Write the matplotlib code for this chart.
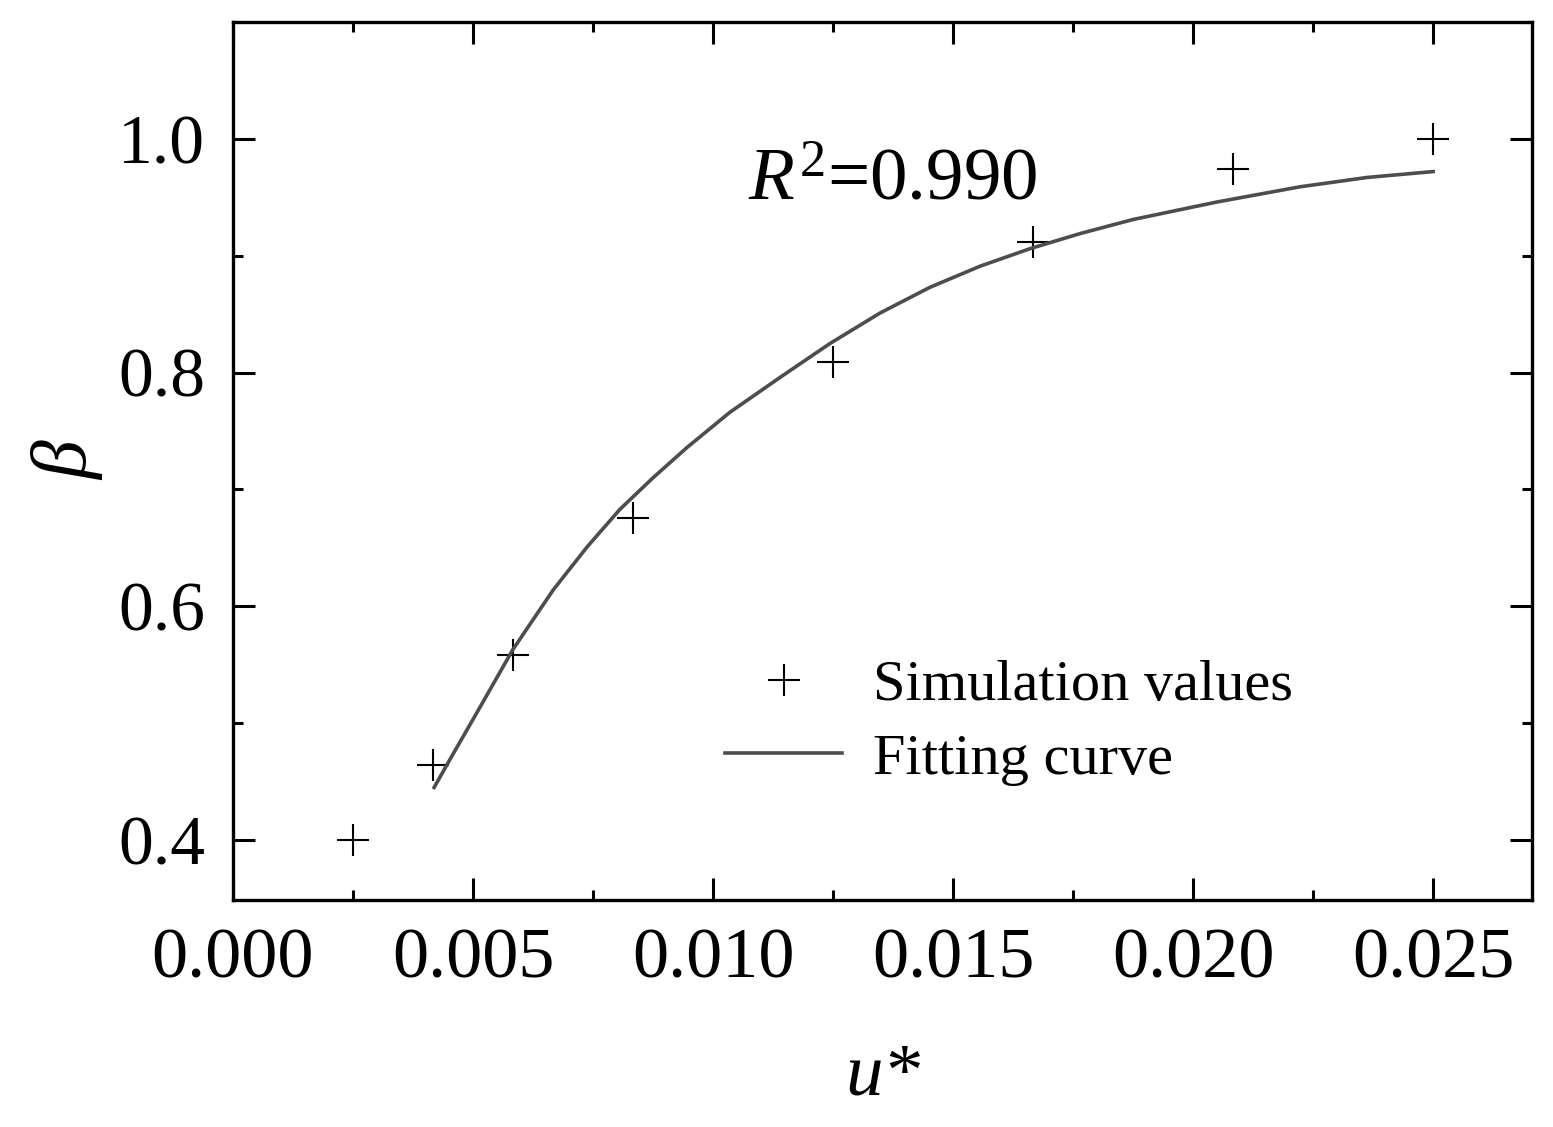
import numpy as np
import matplotlib.pyplot as plt
from matplotlib.ticker import MultipleLocator

plt.rcParams['font.family'] = ['Liberation Serif', 'DejaVu Serif']
plt.rcParams['mathtext.fontset'] = 'custom'
plt.rcParams['mathtext.rm'] = 'Liberation Serif'
plt.rcParams['mathtext.it'] = 'Liberation Serif:italic'

# simulation values
u_sim = [0.0025, 0.00417, 0.00583, 0.00833, 0.0125, 0.01667, 0.02083, 0.025]
beta_sim = [0.400, 0.464, 0.558, 0.676, 0.809, 0.912, 0.974, 1.000]

# fitting curve
u_fit = [0.00419, 0.00452, 0.00515, 0.00583, 0.00667, 0.00738, 0.00806, 0.00875,
         0.00946, 0.01035, 0.01140, 0.01244, 0.01348, 0.01452, 0.01556, 0.01660,
         0.01765, 0.01875, 0.02050, 0.02223, 0.02363, 0.02500]
beta_fit = [0.445, 0.469, 0.514, 0.563, 0.614, 0.651, 0.683, 0.710,
            0.736, 0.766, 0.796, 0.825, 0.851, 0.873, 0.891, 0.906,
            0.919, 0.931, 0.946, 0.959, 0.967, 0.972]

r2_text = "$R^2$=0.990"

fig = plt.figure(figsize=(15.53, 11.27), dpi=100)
ax = fig.add_axes([0.15003, 0.20142, 0.98648 - 0.15003, 0.98048 - 0.20142])

ax.plot(u_sim, beta_sim, '+', color='black', markersize=23, markeredgewidth=1.5,
        label='Simulation values')
ax.plot(u_fit, beta_fit, '-', color='#4d4d4d', linewidth=2.6, label='Fitting curve')

ax.set_xlim(0, 0.02706)
ax.set_ylim(0.3487, 1.1)
ax.xaxis.set_major_locator(MultipleLocator(0.005))
ax.xaxis.set_minor_locator(MultipleLocator(0.0025))
ax.yaxis.set_major_locator(MultipleLocator(0.2))
ax.yaxis.set_minor_locator(MultipleLocator(0.1))
ax.xaxis.set_major_formatter(lambda v, p: f"{v:.3f}")
ax.yaxis.set_major_formatter(lambda v, p: f"{v:.1f}")

for s in ax.spines.values():
    s.set_linewidth(2.4)
ax.tick_params(which='both', direction='in', top=True, right=True, width=2.2)
ax.tick_params(which='major', length=16)
ax.tick_params(which='minor', length=7)
ax.tick_params(axis='x', labelsize=52, pad=20)
ax.tick_params(axis='y', labelsize=50, pad=20)

ax.set_xlabel('u*', fontsize=54, fontstyle='italic', labelpad=36)
ax.set_ylabel('β', fontsize=56, fontstyle='italic', labelpad=10)

ax.text(0.01073, 0.948, r2_text, fontsize=54, va='baseline', ha='left')

ax.legend(loc='upper left', bbox_to_anchor=(0.379, 0.274), frameon=False,
          fontsize=42, handlelength=2.0, handletextpad=0.53, labelspacing=0.35,
          borderpad=0, borderaxespad=0)

fig.savefig('out.png', dpi=100)
